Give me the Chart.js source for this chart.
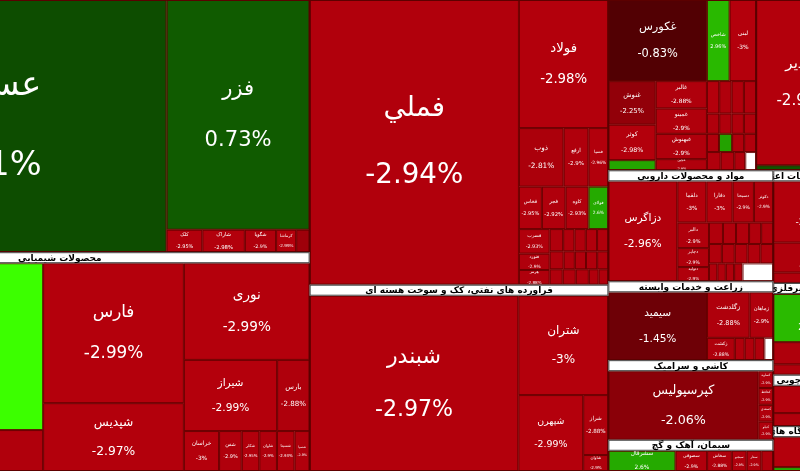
<!DOCTYPE html>
<html><head><meta charset="utf-8">
<script src="https://cdn.jsdelivr.net/npm/chart.js@4/dist/chart.umd.min.js"></script>
<style>html,body{margin:0;padding:0;background:#fff}#w{width:800px;height:471px}</style>
</head><body><div id="w"><canvas id="c"></canvas></div>
<script>
// ---- data (values = cell weights, changes = daily % change) ----
const chemTopNames = ["عسلویه","فزر","کلک","شاراک","شگویا","کرماشا","شلعاب"];
const chemTopValues = [895,327,8,9.5,7,4.5,3];
const chemTopChanges = [0.41,0.73,-2.95,-2.98,-2.9,-2.99,-2.5];

const chemNames = ["شپترو","شیراز۲","فارس","شپدیس","نوری","شیراز","بارس","خراسان","شفن","شکلر","شاوان","شسینا","شسپا"];
const chemValues = [387,95,196,95,121,66,23,14,9,7,7,7,6];
const chemChanges = [4.6,-2.9,-2.99,-2.97,-2.99,-2.99,-2.88,-3,-2.9,-2.95,-2.9,-2.93,-2.9];

const metalNames = ["فملي","فولاد","ذوب","ارفع","فسپا","فخاس","فجر","کاوه","فولای","فسرب","فنورد","هرمز",
  "فگستر","فاما","فباهنر","فلوله","فجهان","فنوال","فایرا","فروی","فرآور","فزرین","فسازان","فاسمین","کویر","فمراد","فکمند"];
const metalValues = [593,114,26,14.5,11.6,9.7,10,9.7,8.4,7.5,5,4.5,3,2.5,2.5,2.5,2.5,2.5,2,2,2,2,2,2,2,1.5,1.5];
const metalChanges = [-2.94,-2.98,-2.81,-2.9,-2.96,-2.95,-2.92,-2.93,2.6,-2.93,-2.9,-2.88,-2.9,-2.9,-2.9,-2.9,-2.9,-2.9,-2.9,-2.9,-2.9,-2.9,-2.9,-2.9,-2.9,-2.9,-2.9];

const oilNames = ["شبندر","شتران","شپهرن","شراز","شاوان"];
const oilValues = [364,89,49,15,4];
const oilChanges = [-2.97,-3,-2.99,-2.88,-2.9];

const foodNames = ["غکورس","غنوش","کوثر","ولکار","غالبر","غمینو","غبهنوش","غچین","شاخص","لبنی",
  "غشاذر","غاذر","غپاک","غدام","غگیلا","غشهد","غپینو","غزر","غسالم","غمهرا","غشان","غدشت","غفارس","غگرجی","غیر"];
const foodValues = [80,20.6,16.8,4.8,14,13,13,5.7,18.4,21.6,4,4,4,4,2.5,2.5,2.5,2.5,2.2,2.4,2.2,2.2,2.5,2.5,2,2];
const foodChanges = [-0.83,-2.25,-2.98,2.5,-2.88,-2.9,-2.9,-2.9,2.96,-3,-3.02,-2.9,-2.9,-2.9,-2.9,-2.9,-2.9,-2.9,-2.9,2.4,-2.9,-2.9,-2.9,-2.9,-2.9,null];

const bankTopNames = ["وغدیر","وبملت"];
const bankTopValues = [155,4.75];
const bankTopChanges = [-2.97,0.6];

const pharmaNames = ["دزاگرس","دلقما","دفارا","دسبحا","دکوثر","دالبر","دجابر","دتولید",
  "دارو","دکیمی","دسینا","دشیمی","دعبید","دفرا","دامین","دیران","داسوه","دپارس","دتماد","دزهراوی","دلر","درازک",""];
const pharmaValues = [69,12,10.8,8.8,8,8.1,6,4.5,3,2.8,2.8,2.6,2.6,2.5,2.5,2.5,2.5,2.5,1.5,1.5,1.5,1.5,5.5];
const pharmaChanges = [-2.96,-3,-3,-2.9,-2.9,-2.9,-2.9,-2.9,-2.9,-2.9,-2.9,-2.9,-2.9,-2.9,-2.9,-2.9,-2.9,-2.9,-2.9,-2.9,-2.9,-2.9,null];

const agriNames = ["سیمید","زگلدشت","زماهان","زکشت","زفجر","زشریف","زبینا",""];
const agriValues = [67,19.4,10.8,6.2,2.2,2.2,2.2,2];
const agriChanges = [-1.45,-2.88,-2.9,-2.88,-2.9,-2.9,-2.9,null];

const tileNames = ["کپرسپولیس","کساوه","کحافظ","کسعدی","کنیلو"];
const tileValues = [103,2.5,2.5,2.5,2.7];
const tileChanges = [-2.06,-2.9,-2.9,-2.9,-2.9];

const cementNames = ["سشرقال","سصوفی","سخاش","سبجنو","سفار","سکرما"];
const cementValues = [13.6,6.4,5,3,3,2.4];
const cementChanges = [2.6,-2.9,-2.88,-2.9,-2.9,-2.9];

const bankNames = ["ونیکی","وبهمن","وسینا"];
const bankValues = [47,23,8];
const bankChanges = [-2.95,-2.88,-2.9];

const mineralNames = ["کهمدا","کاذر","کگاز"];
const mineralValues = [37,17,8];
const mineralChanges = [2.98,-2.88,-2.9];

const woodNames = ["چکارن","چفیبر"];
const woodValues = [21,10];
const woodChanges = [-2.96,-2.9];

const elecNames = ["بترانس","بشهاب"];
const elecValues = [23,3];
const elecChanges = [-3,2.5];

// ---- structure ----
function S(title, names, values, changes, layout){return {sector:true,title,names,values,changes,layout};}
const rng=(a,b)=>{const r=[];for(let i=a;i<=b;i++)r.push(i);return r;};
const sectors = {
  chemTop: S(null, chemTopNames, chemTopValues, chemTopChanges, ['h',0,['v',1,['h',2,3,4,5,6]]]),
  chem: S("محصولات شیمیایی", chemNames, chemValues, chemChanges, ['h',['v',0,1],['v',2,3],['v',4,['h',5,6],['h',7,8,9,10,11,12]]]),
  metal: S(null, metalNames, metalValues, metalChanges, ['h',0,['v',1,['h',2,3,4],['h',5,6,7,8],['h',['v',9,10,11],['v',['h',...rng(12,16)],['h',...rng(17,21)],['h',...rng(22,26)]]]]]),
  oil: S("فراورده های نفتی، کک و سوخت هسته ای", oilNames, oilValues, oilChanges, ['h',0,['v',1,['h',2,['v',3,4]]]]),
  food: S(null, foodNames, foodValues, foodChanges, ['h',['v',0,['h',['v',1,2,3],['v',4,5,6,7]]],['v',['h',8,9],['h',...rng(10,13)],['h',...rng(14,17)],['h',...rng(18,21)],['h',...rng(22,25)]]]),
  bankTop: S(null, bankTopNames, bankTopValues, bankTopChanges, ['v',0,1]),
  pharma: S("مواد و محصولات دارویی", pharmaNames, pharmaValues, pharmaChanges, ['h',0,['v',['h',1,2,3,4],['h',['v',5,6,7],['v',['h',...rng(8,12)],['h',...rng(13,17)],['h',...rng(18,22)]]]]]),
  agri: S("زراعت و خدمات وابسته", agriNames, agriValues, agriChanges, ['h',0,['v',['h',1,2],['h',3,4,5,6,7]]]),
  tile: S("کاشی و سرامیک", tileNames, tileValues, tileChanges, ['h',0,['v',1,2,3,4]]),
  cement: S("سیمان، آهک و گچ", cementNames, cementValues, cementChanges, ['h',0,1,2,3,4,5]),
  bank: S("بانک ها و موسسات اعتباری", bankNames, bankValues, bankChanges, ['v',0,1,2]),
  mineral: S("کانی های غیرفلزی", mineralNames, mineralValues, mineralChanges, ['v',0,1,2]),
  wood: S("محصولات چوبی", woodNames, woodValues, woodChanges, ['v',0,1]),
  elec: S("ماشین آلات و دستگاه های برقی", elecNames, elecValues, elecChanges, ['v',0,1])
};
const X = sectors;
const root = ['h',['v',X.chemTop,X.chem],['v',X.metal,X.oil],
  ['v',['h',X.food,X.bankTop],['h',['v',X.pharma,X.agri,X.tile,X.cement],['v',X.bank,X.mineral,X.wood,X.elec]]]];
const ROOT_X=[-190,850], ROOT_Y=[0,471], HDR=11;

function raw(n,sec){ if(typeof n==='number') return sec.values[n]; if(n.sector) return raw(n.layout,n);
  let s=0; for(let i=1;i<n.length;i++) s+=raw(n[i],sec); return s; }
function wt(n,sec,w){ if(typeof n==='number') return sec.values[n];
  if(n.sector) return wt(n.layout,n,w)+(n.title?HDR*w/100:0);
  let s=0;
  if(n[0]==='v'){ for(let i=1;i<n.length;i++) s+=wt(n[i],sec,w); }
  else { const t=raw(n,sec); for(let i=1;i<n.length;i++) s+=wt(n[i],sec,w*raw(n[i],sec)/t); }
  return s; }
function layout(n,sec,x,y,w,h,out){
  if(typeof n==='number'){ out.cells.push({x,y,w,h,name:sec.names[n],ch:sec.changes[n]}); return; }
  if(n.sector){ if(n.title){ out.heads.push({x,y,w,h:HDR,t:n.title}); out.groups.push({x,y,w,h}); layout(n.layout,n,x,y+HDR,w,h-HDR,out);} else { out.groups.push({x,y,w,h}); layout(n.layout,n,x,y,w,h,out);} return; }
  const kids=n.slice(1);
  if(n[0]==='v'){ const ws=kids.map(k=>wt(k,sec,w)); const t=ws.reduce((a,b)=>a+b,0); let cy=y;
    kids.forEach((k,i)=>{const hh=h*ws[i]/t; layout(k,sec,x,cy,w,hh,out); cy+=hh;}); }
  else { const t0=raw(n,sec); const ws=kids.map(k=>wt(k,sec,w*raw(k,sec)/t0)); const t=ws.reduce((a,b)=>a+b,0); let cx=x;
    kids.forEach((k,i)=>{const ww=w*ws[i]/t; layout(k,sec,cx,y,ww,h,out); cx+=ww;}); }
}
function color(c){
  if(c===null) return '#ffffff';
  if(c<0){ const t=Math.min(-c/3,1); return `rgb(${Math.round(45+135*t)},0,${Math.round(12*t)})`; }
  const t=Math.min(c/4.6,1); return `rgb(${Math.round(8+52*t)},${Math.round(60+195*t)},0)`;
}
const FONT='"DejaVu Sans", sans-serif';
const treemapPlugin={id:'treemap',afterDatasetsDraw(chart){
  const ctx=chart.ctx, xs=chart.scales.x, ys=chart.scales.y, a=chart.chartArea;
  const out={cells:[],heads:[],groups:[]};
  layout(root,null,ROOT_X[0],ROOT_Y[0],ROOT_X[1]-ROOT_X[0],ROOT_Y[1]-ROOT_Y[0],out);
  const P=r=>{const x0=xs.getPixelForValue(r.x),x1=xs.getPixelForValue(r.x+r.w),y0=ys.getPixelForValue(r.y),y1=ys.getPixelForValue(r.y+r.h);
    return {x:Math.min(x0,x1),y:Math.min(y0,y1),w:Math.abs(x1-x0),h:Math.abs(y1-y0)};};
  ctx.save(); ctx.beginPath(); ctx.rect(a.left,a.top,a.right-a.left,a.bottom-a.top); ctx.clip();
  ctx.textAlign='center'; ctx.textBaseline='middle';
  out.cells.forEach(c=>{ const r=P(c);
    ctx.fillStyle=color(c.ch); ctx.fillRect(r.x,r.y,r.w,r.h);
    ctx.strokeStyle='rgba(100,0,0,0.9)'; ctx.lineWidth=1; ctx.strokeRect(r.x+0.5,r.y+0.5,r.w-1,r.h-1);
    if(c.ch===null) return;
    let s=Math.min(2+Math.sqrt(r.w*r.h)/9.5, r.w/4.5, r.h/3.2);
    if(s<3.2) return;
    ctx.save(); ctx.beginPath(); ctx.rect(r.x,r.y,r.w,r.h); ctx.clip();
    ctx.fillStyle='#fff'; ctx.font=`${s.toFixed(1)}px ${FONT}`;
    const cx=r.x+r.w/2, cy=r.y+r.h/2, g=s*1.2;
    ctx.fillText(c.name,cx,cy-g);
    ctx.fillText((Math.round(c.ch*100)/100)+'%',cx,cy+g);
    ctx.restore(); });
  out.groups.forEach(g=>{const r=P(g); ctx.strokeStyle='#5a0000'; ctx.lineWidth=1.5; ctx.strokeRect(r.x,r.y,r.w,r.h);});
  out.heads.forEach(hd=>{ const r=P(hd);
    ctx.fillStyle='#fff'; ctx.fillRect(r.x,r.y,r.w,r.h);
    ctx.strokeStyle='#444'; ctx.lineWidth=1; ctx.strokeRect(r.x+0.5,r.y+0.5,r.w-1,r.h-1);
    ctx.save(); ctx.beginPath(); ctx.rect(r.x,r.y,r.w,r.h); ctx.clip();
    ctx.fillStyle='#000'; ctx.font=`bold 9px ${FONT}`; ctx.fillText(hd.t,r.x+r.w/2,r.y+r.h/2+0.5); ctx.restore(); });
  ctx.restore();
}};
new Chart(document.getElementById('c'),{type:'scatter',data:{datasets:[{data:[]}]},
  options:{responsive:true,maintainAspectRatio:false,animation:false,layout:{padding:0},
    plugins:{legend:{display:false},tooltip:{enabled:false}},
    scales:{x:{type:'linear',min:0,max:800,display:false},y:{type:'linear',min:0,max:471,reverse:true,display:false}}},
  plugins:[treemapPlugin]});
</script></body></html>
